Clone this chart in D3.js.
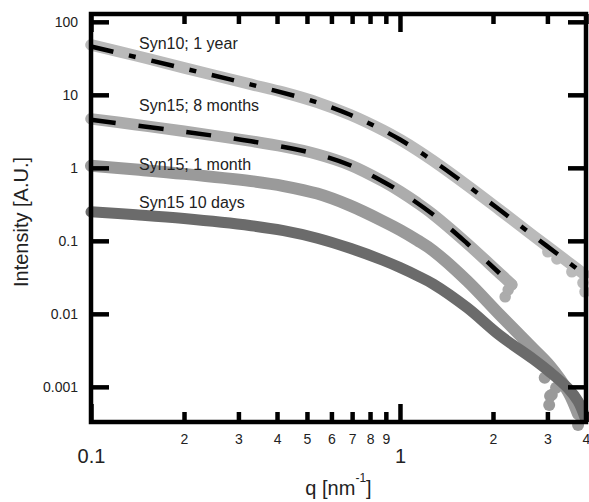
<!DOCTYPE html>
<html>
<head>
<meta charset="utf-8">
<script src="https://cdn.jsdelivr.net/npm/d3@7"></script>
<style>
  html, body { margin: 0; padding: 0; background: #fff; }
  svg { display: block; font-family: "Liberation Sans", Arial, sans-serif; }
</style>
</head>
<body>
<svg id="chart" width="589" height="502"></svg>
<script>
// ---- SAXS curves: q [nm^-1] and scattered intensity [A.U.] ----
const qSyn10Year   = [0.1, 0.14, 0.2, 0.33, 0.42, 0.54, 0.69, 0.88, 1.0, 1.14, 1.28, 1.65, 2.1, 2.7, 3.5, 3.95];
const iSyn10Year   = [48.4, 34.3, 23.4, 13.9, 10.8, 7.89, 5.33, 3.28, 2.44, 1.735, 1.248, 0.575, 0.266, 0.1176, 0.0513, 0.0348];

const qSyn15Month8 = [0.1, 0.14, 0.2, 0.33, 0.42, 0.54, 0.69, 0.88, 1.0, 1.14, 1.28, 1.65, 2.1, 2.3];
const iSyn15Month8 = [4.69, 3.90, 3.17, 2.32, 1.951, 1.537, 1.090, 0.654, 0.475, 0.329, 0.2298, 0.0921, 0.0360, 0.0253];

const qSyn15Month1 = [0.1, 0.14, 0.2, 0.33, 0.42, 0.54, 0.69, 0.88, 1.0, 1.14, 1.28, 1.65, 2.1, 2.7, 3.06, 3.5, 3.77];
const iSyn15Month1 = [1.065, 0.947, 0.827, 0.657, 0.563, 0.4437, 0.3035, 0.1866, 0.1409, 0.1015, 0.0734, 0.02832, 0.0098, 0.00333, 0.00192, 0.000857, 0.000423];

const qSyn15Days10 = [0.1, 0.14, 0.2, 0.33, 0.42, 0.54, 0.69, 0.88, 1.0, 1.14, 1.28, 1.65, 2.1, 2.7, 3.06, 3.5, 3.77, 3.97];
const iSyn15Days10 = [0.2495, 0.2271, 0.2019, 0.1611, 0.1378, 0.1086, 0.0790, 0.0542, 0.04306, 0.03314, 0.02568, 0.01214, 0.005098, 0.0024, 0.001588, 0.000954, 0.000634, 0.000378];

// noisy high-q points that stand off the main curves
const qSyn10Tail   = [3.01, 3.22, 3.60, 3.91, 3.97];
const iSyn10Tail   = [0.0707, 0.0566, 0.0376, 0.0266, 0.020];
const qSyn15M8Tail = [2.19, 2.24, 2.30];
const iSyn15M8Tail = [0.0171, 0.0213, 0.0249];
const qSyn15M1Tail = [2.94, 3.04, 3.06, 3.10, 3.20, 3.77];
const iSyn15M1Tail = [0.00133, 0.000566, 0.00075, 0.00078, 0.00097, 0.000301];

// model fits
const qFitSyn10 = [0.1, 0.2, 0.33, 0.54, 0.69, 0.88, 1.0, 1.28, 1.65, 2.1, 2.7, 3.5, 4.0];
const iFitSyn10 = [46, 23.0, 13.8, 7.85, 5.33, 3.28, 2.44, 1.248, 0.575, 0.266, 0.1176, 0.0513, 0.0334];
const qFitSyn15 = [0.1, 0.2, 0.33, 0.54, 0.69, 0.88, 1.0, 1.28, 1.65, 2.1];
const iFitSyn15 = [4.55, 3.12, 2.31, 1.53, 1.085, 0.652, 0.474, 0.229, 0.092, 0.036];

const seriesNames = ["Syn10; 1 year", "Syn15; 8 months", "Syn15; 1 month", "Syn15 10 days"];

// ---- axis ticks ----
const xTicks      = [0.1, 0.2, 0.3, 0.4, 0.5, 0.6, 0.7, 0.8, 0.9, 1, 2, 3, 4];
const xTickLabels = ["0.1", "2", "3", "4", "5", "6", "7", "8", "9", "1", "2", "3", "4"];
const xMajor      = [0.1, 1];
const yTicks      = [100, 10, 1, 0.1, 0.01, 0.001];
const yTickLabels = ["100", "10", "1", "0.1", "0.01", "0.001"];

// ---- layout ----
const svg = d3.select("#chart");
const frame = { left: 91, right: 586, top: 14, bottom: 422 };

const x = d3.scaleLog().domain([0.1, 4]).range([frame.left, frame.right]);
const y = d3.scaleLog().domain([3.3e-4, 128]).range([frame.bottom, frame.top]);

svg.append("rect").attr("width", 589).attr("height", 502).attr("fill", "#fff");

const zip = (qs, is) => qs.map((q, i) => [q, is[i]]);
const line = d3.line().x(d => x(d[0])).y(d => y(d[1])).curve(d3.curveCatmullRom.alpha(0.5));

// measured curves as thick bands of overlapping markers
const bands = [
  { q: qSyn10Year,   i: iSyn10Year,   tq: qSyn10Tail,   ti: iSyn10Tail,   color: "#bababa", w: 11.5 },
  { q: qSyn15Month8, i: iSyn15Month8, tq: qSyn15M8Tail, ti: iSyn15M8Tail, color: "#acacac", w: 11.5 },
  { q: qSyn15Month1, i: iSyn15Month1, tq: qSyn15M1Tail, ti: iSyn15M1Tail, color: "#9a9a9a", w: 12 },
  { q: qSyn15Days10, i: iSyn15Days10, tq: [],           ti: [],           color: "#6b6b6b", w: 11 }
];

const data = svg.append("g");
bands.forEach(b => {
  const g = data.append("g");
  g.append("path")
    .datum(zip(b.q, b.i))
    .attr("d", line)
    .attr("fill", "none")
    .attr("stroke", b.color)
    .attr("stroke-width", b.w)
    .attr("stroke-linecap", "round")
    .attr("stroke-linejoin", "round");
  g.selectAll("circle")
    .data(zip(b.tq, b.ti))
    .join("circle")
    .attr("cx", d => x(d[0]))
    .attr("cy", d => y(d[1]))
    .attr("r", b.w / 2)
    .attr("fill", b.color);
});

// fits
svg.append("path")
  .datum(zip(qFitSyn10, iFitSyn10))
  .attr("d", line)
  .attr("fill", "none")
  .attr("stroke", "#000")
  .attr("stroke-width", 4.5)
  .attr("stroke-dasharray", "23,16,7,16");
svg.append("path")
  .datum(zip(qFitSyn15, iFitSyn15))
  .attr("d", line)
  .attr("fill", "none")
  .attr("stroke", "#000")
  .attr("stroke-width", 4.5)
  .attr("stroke-dasharray", "25,23");

// curve labels
const labelBaselines = [49, 111, 170, 208];
svg.append("g")
  .selectAll("text")
  .data(seriesNames)
  .join("text")
  .attr("x", 139)
  .attr("y", (d, i) => labelBaselines[i])
  .attr("font-size", 16)
  .attr("fill", "#222")
  .text(d => d);

// ---- axes ----
function styleAxis(g) {
  g.attr("font-size", null).attr("font-family", null);
  g.select(".domain").remove();
  g.selectAll(".tick line").attr("stroke", "#000").attr("stroke-width", 4.5);
  g.selectAll(".tick text").attr("fill", "#222");
}

const gxBottom = svg.append("g")
  .attr("transform", `translate(0,${frame.bottom})`)
  .call(d3.axisBottom(x).tickValues(xTicks).tickSize(-10).tickPadding(12)
    .tickFormat((d, i) => xTickLabels[i]))
  .call(styleAxis);
gxBottom.selectAll(".tick text").attr("font-size", 14);
gxBottom.selectAll(".tick").filter(d => xMajor.includes(d))
  .call(t => t.select("line").attr("y2", -18))
  .call(t => t.select("text").attr("font-size", 20).attr("y", 27));

const gxTop = svg.append("g")
  .attr("transform", `translate(0,${frame.top})`)
  .call(d3.axisTop(x).tickValues(xTicks).tickSize(-10).tickFormat(""))
  .call(styleAxis);
gxTop.selectAll(".tick").filter(d => xMajor.includes(d)).select("line").attr("y2", 18);

const gyLeft = svg.append("g")
  .attr("transform", `translate(${frame.left},0)`)
  .call(d3.axisLeft(y).tickValues(yTicks).tickSize(-18).tickPadding(13)
    .tickFormat((d, i) => yTickLabels[i]))
  .call(styleAxis);
gyLeft.selectAll(".tick text").attr("font-size", 14);

svg.append("g")
  .attr("transform", `translate(${frame.right},0)`)
  .call(d3.axisRight(y).tickValues(yTicks).tickSize(-18).tickFormat(""))
  .call(styleAxis);

// plot frame
svg.append("rect")
  .attr("x", frame.left).attr("y", frame.top)
  .attr("width", frame.right - frame.left).attr("height", frame.bottom - frame.top)
  .attr("fill", "none").attr("stroke", "#000").attr("stroke-width", 4.5);

// axis titles
const xTitle = svg.append("text")
  .attr("x", (frame.left + frame.right) / 2)
  .attr("y", 495)
  .attr("text-anchor", "middle")
  .attr("font-size", 20)
  .attr("fill", "#222");
xTitle.append("tspan").text("q [nm");
xTitle.append("tspan").attr("font-size", 12).attr("dy", -13).text("-1");
xTitle.append("tspan").attr("dy", 13).text("]");

svg.append("text")
  .attr("transform", "translate(28,222) rotate(-90)")
  .attr("text-anchor", "middle")
  .attr("font-size", 20)
  .attr("fill", "#222")
  .text("Intensity [A.U.]");
</script>
</body>
</html>
